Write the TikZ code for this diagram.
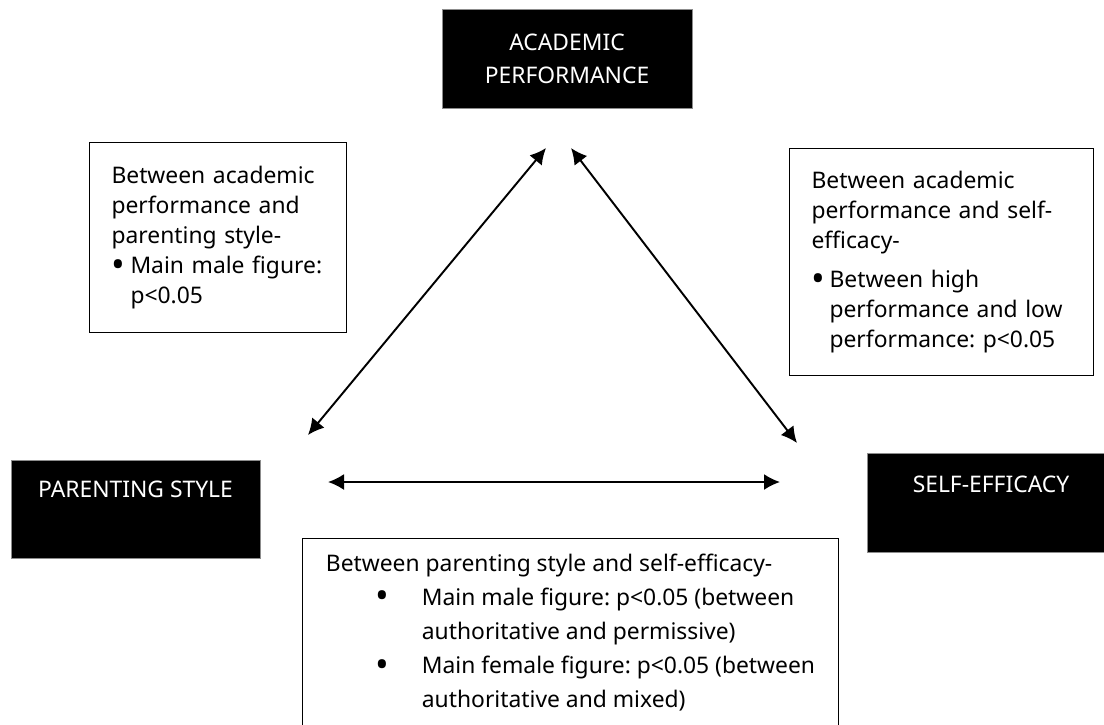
\documentclass[tikz,border=0pt]{standalone}
\usepackage{fontspec}
\setmainfont{Noto Sans}
\usetikzlibrary{arrows.meta,positioning}
\definecolor{colorEdge}{HTML}{8C8C8C}
\newcommand{\bigdot}{\raisebox{-0.17em}{\scalebox{1.6}{\textbullet}}}
\newcommand{\dotbox}[1]{\makebox[#1][l]{\bigdot}}
\frenchspacing
\hyphenpenalty=10000

\begin{document}
\begin{tikzpicture}[x=0.02cm,y=-0.02cm,>={Latex[length=3.2mm,width=3.2mm]},
    var/.style={rectangle,draw=colorEdge,line width=0.5pt,fill=black,text=white,inner sep=0pt,font=\fontsize{13}{18.7}\selectfont},
    note/.style={rectangle,draw,line width=0.6pt,anchor=north west,align=left,inner xsep=0.44cm,font=\fontsize{13}{17}\selectfont},
    link/.style={<->,line width=1.1pt}]
    \clip (0,0) rectangle (1104,724);
    % the three variables
    \node [var,minimum width=5cm,minimum height=1.98cm,align=center] (AP) at (567,58.5) {ACADEMIC\\PERFORMANCE};
    \node [var,anchor=north,minimum width=4.98cm,text height=0.74cm,text depth=1.22cm] (PS) at (135.5,460) {PARENTING STYLE};
    \node [var,anchor=north,minimum width=4.96cm,text height=0.78cm,text depth=1.2cm] (SE) at (991,453) {SELF-EFFICACY};
    % notes
    \node [note,text width=4.26cm,minimum height=3.8cm] (apps) at (89,142) {Between academic\\performance and\\parenting style-\\\dotbox{0.38cm}Main male figure:\\\hspace*{0.38cm}p<0.05};
    \node [note,text width=5.2cm,minimum height=4.54cm] (apse) at (789,148) {Between academic\\performance and self-\\efficacy-\\[0.18cm]\dotbox{0.36cm}Between high\\\hspace*{0.36cm}performance and low\\\hspace*{0.36cm}performance: p<0.05};
    \node [note,minimum width=10.72cm,inner ysep=0.3cm,font=\fontsize{13}{19.4}\selectfont] (psse) at (302,538) {Between parenting style and self-efficacy-\\\hspace*{1cm}\dotbox{0.92cm}Main male figure: p<0.05 (between\\\hspace*{1.92cm}authoritative and permissive)\\\hspace*{1cm}\dotbox{0.92cm}Main female figure: p<0.05 (between\\\hspace*{1.92cm}authoritative and mixed)};
    % arrow ends
    \coordinate (apL) at (546,148);
    \coordinate (apR) at (571,148);
    \coordinate (psT) at (308,435);
    \coordinate (psR) at (328,482);
    \coordinate (seT) at (797,443);
    \coordinate (seL) at (780,482);
    \path[link] (apL) edge (psT);
    \path[link] (apR) edge (seT);
    \path[link] (psR) edge (seL);
\end{tikzpicture}
\end{document}
